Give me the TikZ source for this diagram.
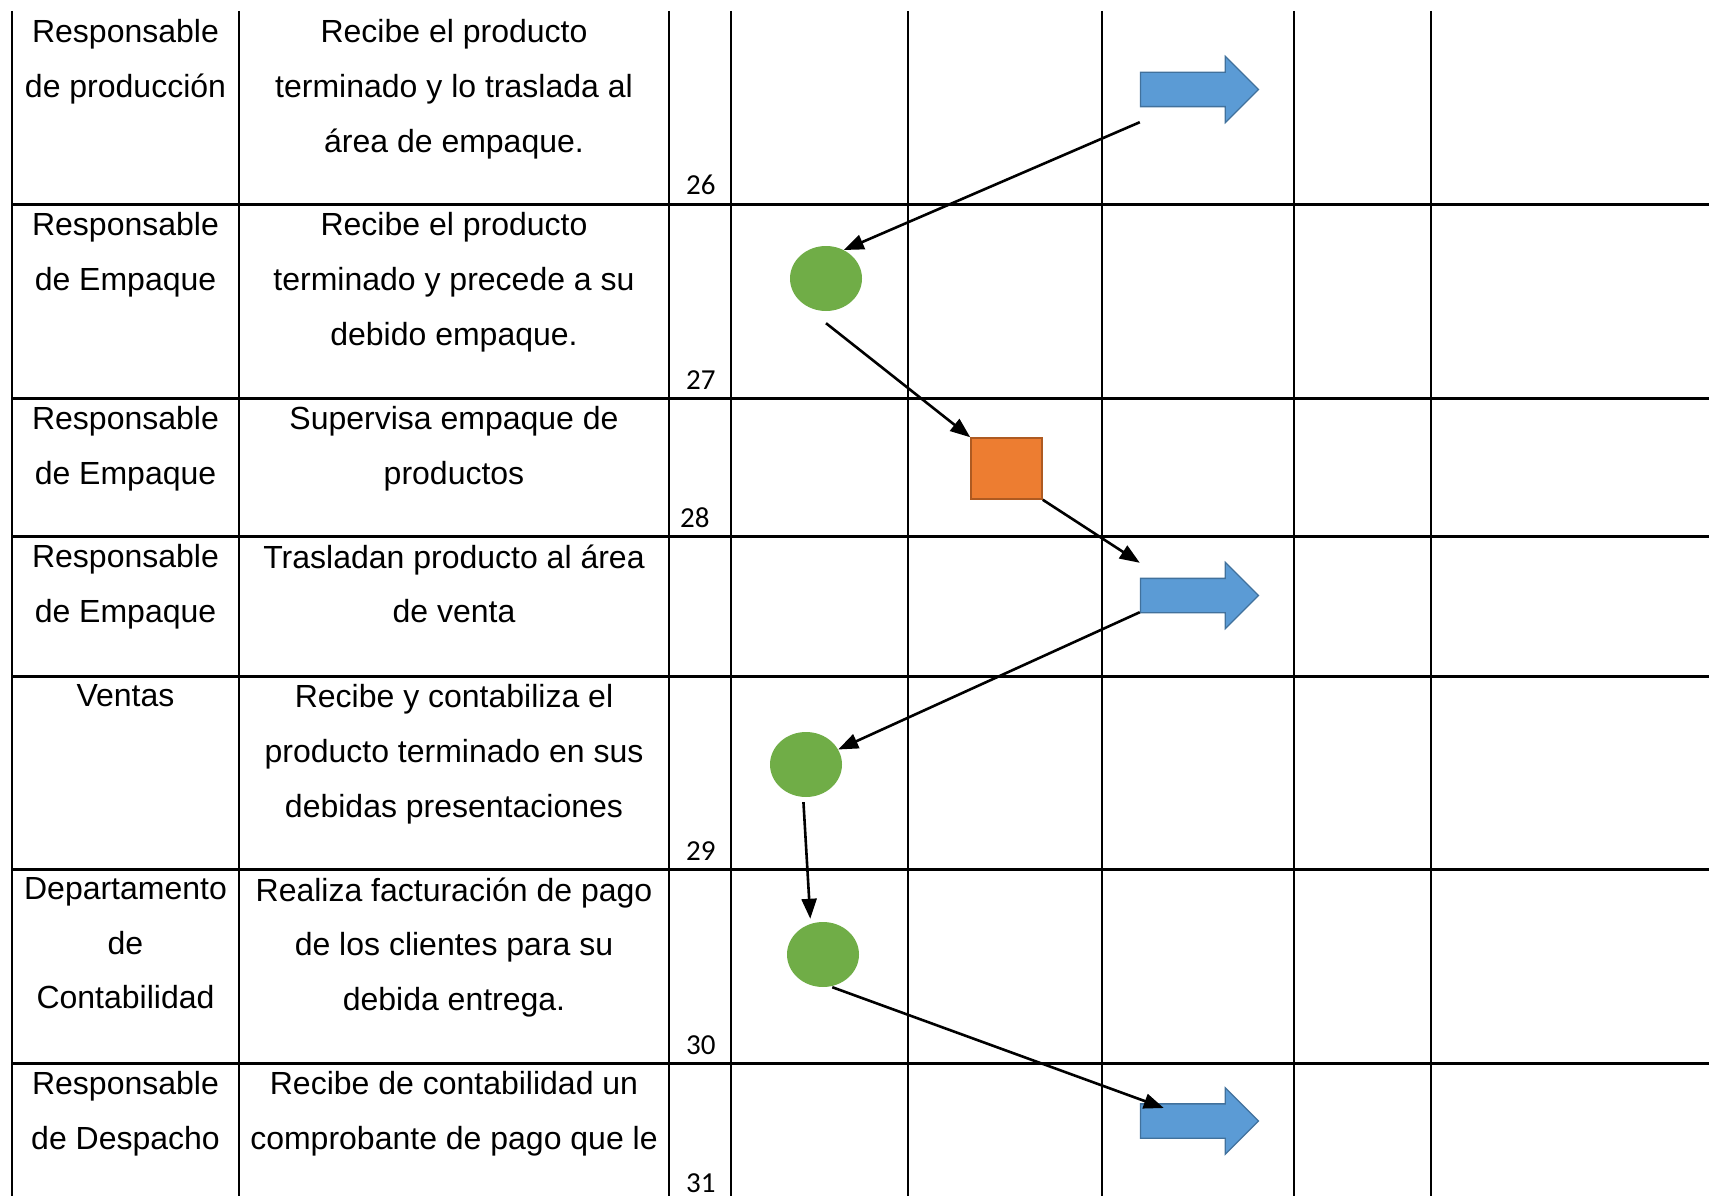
\documentclass[tikz,border=0pt]{standalone}
\usepackage{fontspec}
\setmainfont{Liberation Sans}
\newfontfamily\numfont{Carlito}
\usetikzlibrary{arrows.meta,shapes.geometric,shapes.arrows}
\definecolor{flowblue}{HTML}{5B9BD5}
\definecolor{flowedge}{HTML}{41719C}
\definecolor{stepgreen}{HTML}{70AD47}
\definecolor{checkorange}{HTML}{ED7D31}
\definecolor{checkedge}{HTML}{AE5A21}

\begin{document}
\begin{tikzpicture}[x=1pt,y=-1pt,
  cell/.style={anchor=north, align=center, inner sep=0pt, font=\fontsize{32}{54.6}\selectfont},
  num/.style={anchor=base west, inner sep=0pt, font=\numfont\fontsize{29}{29}\selectfont},
  flowbox/.style={rectangle, minimum width=118pt, minimum height=65pt, inner sep=0pt},
  flowshape/.style={single arrow, anchor=tail, fill=flowblue, draw=flowedge, line width=1.3pt, minimum height=118pt, minimum width=65pt, single arrow head extend=16pt, inner xsep=0pt, inner ysep=16.5pt},
  stepdot/.style={ellipse, fill=stepgreen, minimum width=72pt, minimum height=65pt, inner sep=0pt},
  checkbox/.style={rectangle, fill=checkorange, draw=checkedge, line width=1.5pt, minimum width=71pt, minimum height=61pt, inner sep=0pt},
  flowline/.style={line width=2.6pt, -{Triangle[length=20pt,width=15pt]}}]
\useasboundingbox (0,0) rectangle (1709,1196);

% Table rules
\draw[line width=3pt] (12,204) -- (1709,204);
\draw[line width=3pt] (12,398) -- (1709,398);
\draw[line width=3pt] (12,536) -- (1709,536);
\draw[line width=3pt] (12,676) -- (1709,676);
\draw[line width=3pt] (12,869) -- (1709,869);
\draw[line width=3pt] (12,1063) -- (1709,1063);
\draw[line width=2.8pt] (12,11) -- (12,1196);
\draw[line width=2.8pt] (239,11) -- (239,1196);
\draw[line width=2.8pt] (669,11) -- (669,1196);
\draw[line width=2.8pt] (731,11) -- (731,1196);
\draw[line width=2pt] (908,11) -- (908,1196);
\draw[line width=2pt] (1102,11) -- (1102,1196);
\draw[line width=2pt] (1294,11) -- (1294,1196);
\draw[line width=2pt] (1431,11) -- (1431,1196);

% Row 26
\node[cell] (who1) at (125.5,19.5) {Responsable\\de producción};
\node[cell] (task1) at (454,19.5) {Recibe el producto\\terminado y lo traslada al\\área de empaque.};
\node[num] (num26) at (686,195) {26};
% Row 27
\node[cell] (who2) at (125.5,212.5) {Responsable\\de Empaque};
\node[cell] (task2) at (454,212.5) {Recibe el producto\\terminado y precede a su\\debido empaque.};
\node[num] (num27) at (686,389) {27};
% Row 28
\node[cell] (who3) at (125.5,406.5) {Responsable\\de Empaque};
\node[cell] (task3) at (454,406.5) {Supervisa empaque de\\productos};
\node[num] (num28) at (680,527) {28};
% Row without number
\node[cell] (who4) at (125.5,544.5) {Responsable\\de Empaque};
\node[cell] (task4) at (454,544.5) {Trasladan producto al área\\de venta};
% Row 29
\node[cell] (who5) at (125.5,684.5) {Ventas};
\node[cell] (task5) at (454,684.5) {Recibe y contabiliza el\\producto terminado en sus\\debidas presentaciones};
\node[num] (num29) at (686,860) {29};
% Row 30
\node[cell] (who6) at (125.5,877.5) {Departamento\\de\\Contabilidad};
\node[cell] (task6) at (454,877.5) {Realiza facturación de pago\\de los clientes para su\\debida entrega.};
\node[num] (num30) at (686,1054) {30};
% Row 31
\node[cell] (who7) at (125.5,1071.5) {Responsable\\de Despacho};
\node[cell] (task7) at (454,1071.5) {Recibe de contabilidad un\\comprobante de pago que le};
\node[num] (num31) at (686,1192) {31};

% Symbols
\node[flowbox] (flowA) at (1199,89.5) {};
\node[flowshape] (flowAshape) at (flowA.west) {};
\node[stepdot] (stepA) at (826,278.5) {};
\node[checkbox] (checkA) at (1006.5,468.5) {};
\node[flowbox] (flowB) at (1199,595.5) {};
\node[flowshape] (flowBshape) at (flowB.west) {};
\node[stepdot] (stepB) at (806,764.5) {};
\node[stepdot] (stepC) at (823,954.5) {};
\node[flowbox] (flowC) at (1199,1121) {};
\node[flowshape] (flowCshape) at (flowC.west) {};

% Connectors
\draw[flowline] (flowA.south west) -- (stepA.58);
\draw[flowline] ([yshift=-12pt]stepA.south) -- (checkA.north west);
\draw[flowline] (checkA.south east) -- (flowB.north west);
\draw[flowline] ([yshift=16pt]flowB.south west) -- (stepB.25);
\draw[flowline, shorten <=5pt, shorten >=5pt] (stepB.265) -- (stepC.112);
\draw[flowline, shorten <=2pt] (stepC.-77) -- ([shift={(24pt,13pt)}]flowC.west);
\end{tikzpicture}
\end{document}
